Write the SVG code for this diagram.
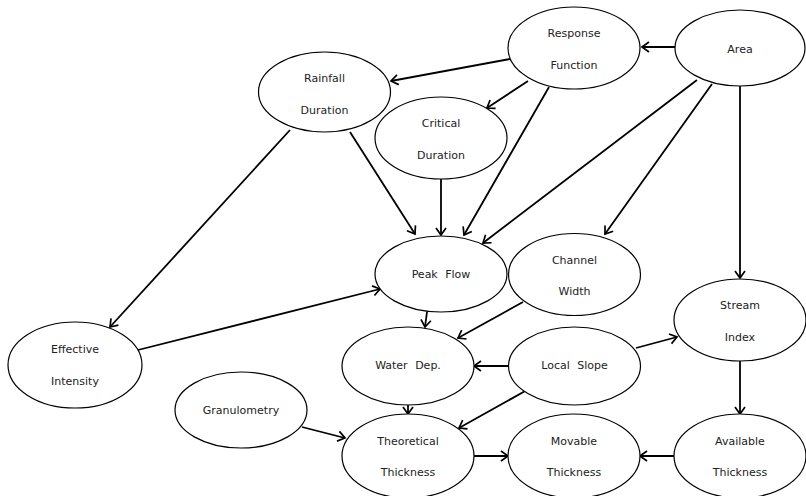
<svg xmlns="http://www.w3.org/2000/svg" width="806" height="496" viewBox="0 0 806 496">
  <style>
    .node ellipse { fill: #ffffff; stroke: #000000; stroke-width: 1.2; }
    .node text { font-family: "DejaVu Sans", "Liberation Sans", sans-serif; font-size: 11px; fill: #222222; text-anchor: middle; dominant-baseline: central; word-spacing: 4px; }
    #edges line { stroke: #000000; stroke-width: 1.8; fill: none; marker-end: url(#arrow); }
  </style>
  <defs>
    <marker id="arrow" markerUnits="userSpaceOnUse" markerWidth="14" markerHeight="14" viewBox="-10 -7 12 14" refX="0" refY="0" orient="auto">
      <path d="M-7,-5 L0,0 L-7,5" fill="none" stroke="#000000" stroke-width="1.7"/>
    </marker>
  </defs>

  <rect width="806" height="496" fill="#ffffff"/>

  <g id="edges">
    <line x1="675" y1="47" x2="642" y2="47"/>
    <line x1="510" y1="59" x2="391" y2="81"/>
    <line x1="528" y1="81" x2="487" y2="108"/>
    <line x1="549" y1="87" x2="464" y2="235"/>
    <line x1="697" y1="80" x2="483" y2="243"/>
    <line x1="290" y1="130" x2="110" y2="327"/>
    <line x1="350" y1="132" x2="415" y2="234"/>
    <line x1="441" y1="179" x2="441" y2="235"/>
    <line x1="712" y1="84" x2="605" y2="234"/>
    <line x1="740" y1="86" x2="740" y2="278"/>
    <line x1="138" y1="350" x2="380" y2="289"/>
    <line x1="427" y1="312" x2="425" y2="327"/>
    <line x1="523" y1="302" x2="458" y2="338"/>
    <line x1="508" y1="366" x2="474" y2="366"/>
    <line x1="636" y1="348" x2="677" y2="337"/>
    <line x1="527" y1="390" x2="459" y2="428"/>
    <line x1="408" y1="404" x2="408" y2="414"/>
    <line x1="302" y1="427" x2="345" y2="438"/>
    <line x1="474" y1="456" x2="508" y2="456"/>
    <line x1="674" y1="456" x2="640" y2="456"/>
    <line x1="740" y1="361" x2="740" y2="414"/>
  </g>

  <g id="response-function" class="node">
    <ellipse cx="574" cy="48" rx="66" ry="41"/>
    <text x="574" y="33">Response</text>
    <text x="574" y="65">Function</text>
  </g>
  <g id="area" class="node">
    <ellipse cx="740" cy="48" rx="65" ry="38"/>
    <text x="740" y="49">Area</text>
  </g>
  <g id="rainfall-duration" class="node">
    <ellipse cx="324.5" cy="92" rx="66" ry="40"/>
    <text x="324.5" y="78">Rainfall</text>
    <text x="324.5" y="110">Duration</text>
  </g>
  <g id="critical-duration" class="node">
    <ellipse cx="441" cy="138" rx="66" ry="41"/>
    <text x="441" y="123">Critical</text>
    <text x="441" y="155">Duration</text>
  </g>
  <g id="peak-flow" class="node">
    <ellipse cx="441" cy="274" rx="66" ry="38"/>
    <text x="441" y="274">Peak Flow</text>
  </g>
  <g id="channel-width" class="node">
    <ellipse cx="574.5" cy="274.5" rx="66" ry="41"/>
    <text x="574.5" y="260">Channel</text>
    <text x="574.5" y="291">Width</text>
  </g>
  <g id="stream-index" class="node">
    <ellipse cx="740" cy="320" rx="66" ry="41"/>
    <text x="740" y="305">Stream</text>
    <text x="740" y="337">Index</text>
  </g>
  <g id="effective-intensity" class="node">
    <ellipse cx="75" cy="365" rx="67" ry="43"/>
    <text x="75" y="349">Effective</text>
    <text x="75" y="381">Intensity</text>
  </g>
  <g id="water-dep" class="node">
    <ellipse cx="408" cy="366" rx="66" ry="39"/>
    <text x="408" y="365">Water Dep.</text>
  </g>
  <g id="local-slope" class="node">
    <ellipse cx="574.5" cy="366" rx="66" ry="39"/>
    <text x="574.5" y="365">Local Slope</text>
  </g>
  <g id="granulometry" class="node">
    <ellipse cx="241" cy="410" rx="66" ry="38"/>
    <text x="241" y="410">Granulometry</text>
  </g>
  <g id="theoretical-thickness" class="node">
    <ellipse cx="408" cy="456" rx="66" ry="42"/>
    <text x="408" y="441">Theoretical</text>
    <text x="408" y="472">Thickness</text>
  </g>
  <g id="movable-thickness" class="node">
    <ellipse cx="574" cy="456" rx="66" ry="42"/>
    <text x="574" y="441">Movable</text>
    <text x="574" y="472">Thickness</text>
  </g>
  <g id="available-thickness" class="node">
    <ellipse cx="740" cy="456" rx="66" ry="42"/>
    <text x="740" y="441">Available</text>
    <text x="740" y="472">Thickness</text>
  </g>
</svg>
